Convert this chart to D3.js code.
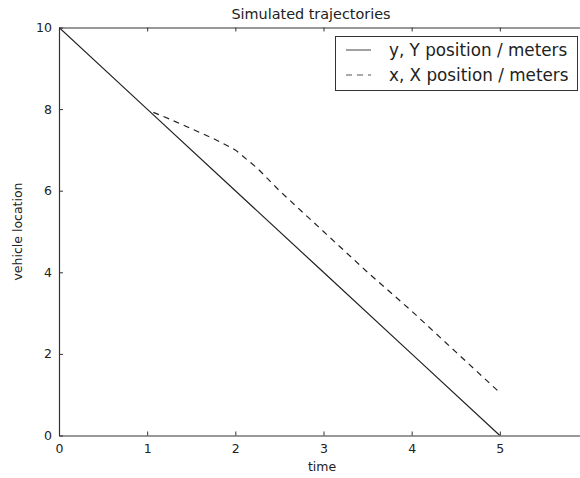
<!DOCTYPE html>
<html>
<head>
<meta charset="utf-8">
<script src="https://cdn.jsdelivr.net/npm/d3@7"></script>
<style>
  html, body { margin: 0; padding: 0; background: #fff; }
  svg { display: block; font-family: "DejaVu Sans", sans-serif; }
</style>
</head>
<body>
<div id="chart"></div>
<script>
// ---- data ----
const yTimes = [0, 1, 2, 3, 4, 5];
const yValues = [10, 8, 6, 4, 2, 0];
const xTimes = [1.07, 1.25, 1.5, 1.75, 2.0, 2.25, 2.5, 3.0, 3.5, 4.0, 4.5, 5.0];
const xValues = [7.92, 7.76, 7.52, 7.28, 7.0, 6.55, 6.0, 5.0, 4.0, 3.05, 2.05, 1.05];
const xTicks = [0, 1, 2, 3, 4, 5];
const yTicks = [0, 2, 4, 6, 8, 10];
const seriesLabels = ["y, Y position / meters", "x, X position / meters"];
const titleText = "Simulated trajectories";
const xLabel = "time";
const yLabel = "vehicle location";

(function () {
// ---- layout ----
const W = 580, H = 478;
const mL = 59, mR = 588, mT = 27.5, mB = 435.5;

const svg = d3.select("#chart").append("svg").attr("width", W).attr("height", H);
svg.append("rect").attr("width", W).attr("height", H).attr("fill", "#fff");

const x = d3.scaleLinear().domain([0, 6]).range([mL, mR]);
const y = d3.scaleLinear().domain([0, 10]).range([mB, mT]);

const line = d3.line().x(d => x(d[0])).y(d => y(d[1]));

svg.append("clipPath").attr("id", "clip")
  .append("rect").attr("x", mL).attr("y", mT).attr("width", mR - mL).attr("height", mB - mT);

const plot = svg.append("g").attr("clip-path", "url(#clip)");
plot.append("path")
  .datum(yTimes.map((t, i) => [t, yValues[i]]))
  .attr("d", line).attr("fill", "none").attr("stroke", "#222").attr("stroke-width", 1.2);
plot.append("path")
  .datum(xTimes.map((t, i) => [t, xValues[i]]))
  .attr("d", line).attr("fill", "none").attr("stroke", "#222").attr("stroke-width", 1.2)
  .attr("stroke-dasharray", "6,5");

// axes (ticks inward, matplotlib classic style)
const axisColor = "#333";
const fmt = d3.format("d");
const bAxis = svg.append("g").attr("transform", `translate(0,${mB})`)
  .call(d3.axisBottom(x).tickValues(xTicks).tickFormat(fmt).tickSizeInner(-4).tickSizeOuter(0).tickPadding(9));
const tAxis = svg.append("g").attr("transform", `translate(0,${mT})`)
  .call(d3.axisTop(x).tickValues(xTicks).tickSizeInner(-4).tickSizeOuter(0).tickFormat(""));
const lAxis = svg.append("g").attr("transform", `translate(${mL},0)`)
  .call(d3.axisLeft(y).tickValues(yTicks).tickFormat(fmt).tickSizeInner(-4).tickSizeOuter(0).tickPadding(7));
const rAxis = svg.append("g").attr("transform", `translate(${mR},0)`)
  .call(d3.axisRight(y).tickValues(yTicks).tickSizeInner(-4).tickSizeOuter(0).tickFormat(""));

[bAxis, tAxis, lAxis, rAxis].forEach(g => {
  g.selectAll("path.domain").attr("stroke", axisColor).attr("stroke-width", 1.2);
  g.selectAll(".tick line").attr("stroke", axisColor).attr("stroke-width", 1);
  g.selectAll(".tick text").attr("fill", "#222").attr("font-size", 12.5)
    .attr("font-family", "DejaVu Sans, sans-serif");
});

// title & labels
svg.append("text").attr("x", 311).attr("y", 19)
  .attr("text-anchor", "middle").attr("font-size", 14.4).attr("fill", "#222").text(titleText);
svg.append("text").attr("x", 322).attr("y", 471)
  .attr("text-anchor", "middle").attr("font-size", 12.5).attr("fill", "#222").text(xLabel);
svg.append("text").attr("transform", `translate(22,${(mT + mB) / 2}) rotate(-90)`)
  .attr("text-anchor", "middle").attr("font-size", 12.5).attr("fill", "#222").text(yLabel);

// legend
const lg = svg.append("g");
lg.append("rect").attr("x", 335.5).attr("y", 36.5).attr("width", 242).attr("height", 54)
  .attr("fill", "#fff").attr("stroke", "#333").attr("stroke-width", 1);
const dashes = [null, "6,5"];
seriesLabels.forEach((s, i) => {
  const yy = 50 + i * 25;
  lg.append("line").attr("x1", 346).attr("x2", 371).attr("y1", yy).attr("y2", yy)
    .attr("stroke", "#555").attr("stroke-width", 1.1)
    .attr("stroke-dasharray", dashes[i]);
  lg.append("text").attr("x", 389).attr("y", yy).attr("dy", "0.35em")
    .attr("font-size", 16.8).attr("fill", "#222").text(s);
});
})();
</script>
</body>
</html>
